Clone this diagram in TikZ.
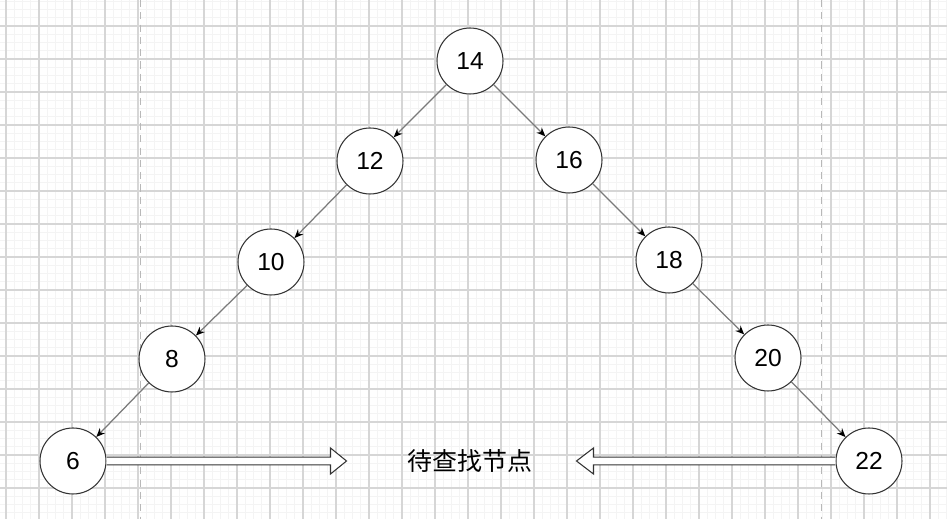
\documentclass[tikz,border=0pt]{standalone}
\usepackage{fontspec}
\setmainfont{Liberation Sans}
\newfontfamily\cjkfont{Noto Sans CJK SC}
\usepackage{xcolor}
\usepackage{tikz}
\usetikzlibrary{arrows.meta,calc}
\definecolor{minorgray}{HTML}{F4F4F4}
\definecolor{majorgray}{HTML}{D6D6D6}
\definecolor{guidegray}{HTML}{B8B8B8}
\definecolor{edgegray}{HTML}{7A7A7A}
\definecolor{ringgray}{HTML}{333333}
\tikzset{
  minorgrid/.style={draw=minorgray, line width=0.45pt},
  majorgrid/.style={draw=majorgray, line width=0.6pt},
  guide/.style={draw=guidegray, line width=0.7pt, dash pattern=on 4pt off 3pt},
  treenode/.style={
    circle,
    draw=ringgray,
    fill=white,
    line width=0.6pt,
    inner sep=0pt,
    minimum size=1.32cm,
    font=\fontsize{14}{16}\selectfont
  },
  link/.style={draw=edgegray, line width=0.7pt, -{Stealth[length=5pt,width=4.2pt,color=black]}},
  blockarrow/.style={draw=ringgray, fill=white, line width=0.6pt, line join=miter}
}

\begin{document}
\begin{tikzpicture}[x=0.02cm,y=-0.02cm]
  \path[use as bounding box] (0,0) rectangle (947,519);
  \clip (0,0) rectangle (947,519);
  \fill[white] (0,0) rectangle (947,519);

  % background grid
  \foreach \i in {0,...,118} {
    \draw[minorgrid] ({-27+\i*8.25},0) -- ++(0,519);
  }
  \foreach \j in {0,...,66} {
    \draw[minorgrid] (0,{-7+\j*8.25}) -- ++(947,0);
  }
  \foreach \i in {0,...,29} {
    \draw[majorgrid] ({6+\i*33},0) -- ++(0,519);
  }
  \foreach \j in {0,...,16} {
    \draw[majorgrid] (0,{-7+\j*33}) -- ++(947,0);
  }
  \draw[guide] (140.5,0) -- (140.5,519);
  \draw[guide] (821.7,0) -- (821.7,519);

  % tree
  \node[treenode] (n14) at (470,61) {14};
  \node[treenode] (n12) at (370,161) {12};
  \node[treenode] (n16) at (569,160) {16};
  \node[treenode] (n10) at (271,262) {10};
  \node[treenode] (n18) at (669,260) {18};
  \node[treenode] (n8) at (172,359) {8};
  \node[treenode] (n20) at (768,358) {20};
  \node[treenode] (n6) at (73,461) {6};
  \node[treenode] (n22) at (869,461) {22};

  \node[font=\cjkfont\fontsize{14.2}{17}\selectfont] (target) at (470,461) {待查找节点};

  \draw[link] (n14) -- (n12);
  \draw[link] (n12) -- (n10);
  \draw[link] (n10) -- (n8);
  \draw[link] (n8) -- (n6);
  \draw[link] (n14) -- (n16);
  \draw[link] (n16) -- (n18);
  \draw[link] (n18) -- (n20);
  \draw[link] (n20) -- (n22);

  % hollow arrows towards the label
  \draw[blockarrow] ($(n6.east)+(0,-3.8)$) -- ++(224,0) -- ++(0,-9.2)
    -- ++(16,13) -- ++(-16,13) -- ++(0,-9.2) -- ++(-224,0);
  \draw[blockarrow] ($(n22.west)+(0,-3.8)$) -- ++(-242,0) -- ++(0,-9.2)
    -- ++(-17,13) -- ++(17,13) -- ++(0,-9.2) -- ++(242,0);
\end{tikzpicture}
\end{document}
